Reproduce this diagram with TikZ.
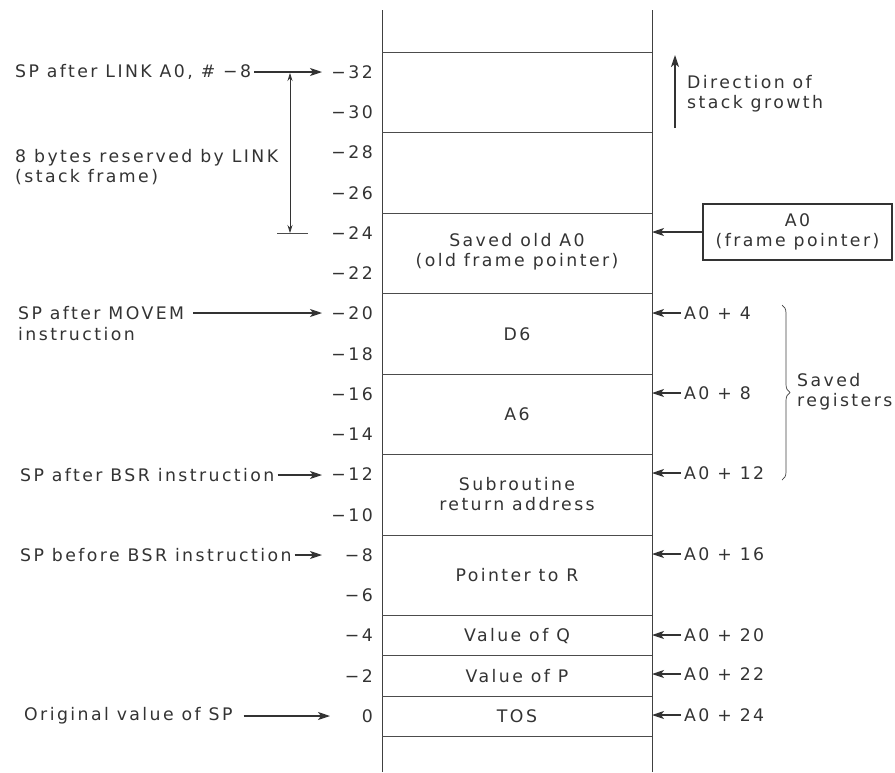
\documentclass[tikz,border=0pt]{standalone}
\usepackage{fontspec}
\setmainfont{DejaVu Sans}[LetterSpace=14]
\usetikzlibrary{arrows.meta,decorations.pathreplacing,positioning}
\tikzset{
	ptr/.style={-{Stealth[length=12pt,width=8pt,inset=3pt]}, line width=1.1pt, black!80},
	addr/.style={anchor=east, inner sep=2pt},
	lbl/.style={anchor=west, inner sep=3pt},
	cell/.style={align=center, inner sep=0pt},
}
\begin{document}
\begin{tikzpicture}[x=1pt, y=-1pt, font=\fontsize{17.3}{20}\selectfont, text=black!80]
	\useasboundingbox (0,0) rectangle (895,772);
	% stack column
	\coordinate (lline) at (382,0);
	\coordinate (rline) at (652,0);
	\draw[line width=0.8pt, black!75] (382,10) -- (382,772);
	\draw[line width=0.8pt, black!75] (652,10) -- (652,772);
	\foreach \n in {-33,-29,-25,-21,-17,-13,-9,-5,-3,-1,1}
		\draw[line width=0.7pt, black!70] (382,{716+20.125*\n}) -- (652,{716+20.125*\n});
	% byte offsets
	\foreach \n in {0,2,...,32}
		\node[addr] (a\n) at (375,{716-20.125*\n}) {\ifnum\n=0 0\else −\n\fi};
	% cell contents
	\node[cell] (old) at (517,252) {Saved old A0\\(old frame pointer)};
	\node[cell] (d6) at (517,334) {D6};
	\node[cell] (a6) at (517,414) {A6};
	\node[cell] (ret) at (517,494) {Subroutine\\return address};
	\node[cell] (ptrR) at (517,575) {Pointer to R};
	\node[cell] (valQ) at (517,636) {Value of Q};
	\node[cell] (valP) at (517,676) {Value of P};
	\node[cell] (tos) at (517,716) {TOS};
	% stack pointer labels
	\coordinate (tip) at (322,0);
	\node[lbl] (sp32) at (12,72) {SP after LINK A0, \# −8};
	\node[lbl] (sp20) at (15,313) {SP after MOVEM};
	\node[lbl] (sp20b) at (15,334) {instruction};
	\node[lbl] (sp12) at (17,475) {SP after BSR instruction};
	\node[lbl] (sp8) at (17,555) {SP before BSR instruction};
	\node[lbl] (sp0) at (21,716) {Original value of SP};
	\draw[ptr] (sp32.east) -- (sp32.east -| tip);
	\draw[ptr] (sp20.east) ++(6,0) -- (sp20.east -| tip);
	\draw[ptr] (sp12.east) -- (sp12.east -| tip);
	\draw[ptr] (sp8.east) -- (sp8.east -| tip);
	\draw[ptr] (sp0.east) ++(8,0) -- ([xshift=8pt]sp0.east -| tip);
	% reserved frame
	\node[lbl, align=left] (res) at (12,167) {8 bytes reserved by LINK\\(stack frame)};
	\coordinate (resT) at (290,73);
	\coordinate (resB) at (290,233);
	\draw[{Stealth[length=8pt,width=5pt]}-{Stealth[length=8pt,width=5pt]}, line width=0.7pt, black!80] (resT) -- (resB);
	\draw[line width=0.7pt, black!70] (resB) +(-13,0) -- +(18,0);
	% stack growth
	\coordinate (grB) at (675,128);
	\coordinate (grT) at (675,55);
	\draw[ptr, line width=1.5pt] (grB) -- (grT);
	\node[lbl, align=left] (grow) at (684,94) {Direction of\\stack growth};
	% frame pointer
	\node[draw, line width=1.1pt, black!80, text=black!80, minimum width=189pt, minimum height=56pt, align=center] (fp) at (797.5,232) {A0\\(frame pointer)};
	\draw[ptr] (fp.west) -- (fp.west -| rline);
	% offsets from A0
	\foreach \n/\y in {4/313, 8/393, 12/473, 16/554, 20/635, 22/674, 24/715} {
		\node[lbl] (r\n) at (681,\y) {A0 + \n};
		\draw[ptr] (r\n.west) -- (r\n.west -| rline);
	}
	% saved registers
	\draw[decorate, decoration={brace, amplitude=8pt}, line width=0.7pt, black!75] (782,305) -- (782,480);
	\node[lbl, align=left, inner sep=0pt] (saved) at (797,392) {Saved\\registers};
\end{tikzpicture}
\end{document}
